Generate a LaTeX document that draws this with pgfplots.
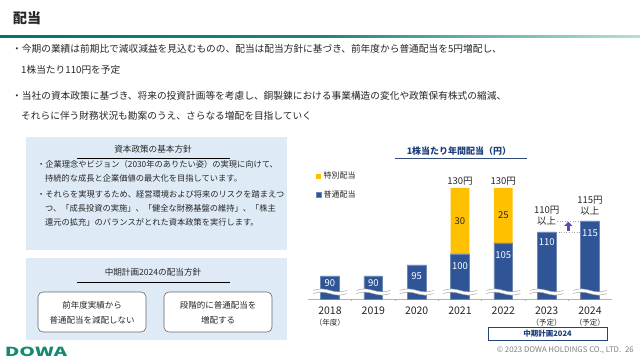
\documentclass[border=0pt]{standalone}
\usepackage{fontspec}
\setmainfont{Noto Sans CJK JP}
\setsansfont{Noto Sans CJK JP}
\usepackage{pgfplots}
\pgfplotsset{compat=1.18}
\usetikzlibrary{arrows.meta}
\definecolor{boxblue}{HTML}{DEEBF7}
\definecolor{barblue}{HTML}{2F5597}
\definecolor{baryellow}{HTML}{FFC000}
\definecolor{navy}{HTML}{1F3F7A}
\definecolor{txt}{HTML}{262626}
\definecolor{tealA}{HTML}{00756A}
\definecolor{tealB}{HTML}{B5E0DA}
\definecolor{dowa}{HTML}{168A70}
\definecolor{arrowp}{HTML}{5A4AB5}
\newcommand{\fs}[1]{\fontsize{#1}{#1}\selectfont}
\tikzset{inlab/.style={inner sep=0pt, text=white, font=\fs{9.5}}}
\begin{document}
\begin{tikzpicture}
\begin{scope}[x=1pt,y=-1pt]
\fill[white] (0,0) rectangle (640,360);
\useasboundingbox (0,0) rectangle (640,360);
% header
\node[anchor=west, inner sep=0pt, text=txt, font=\fs{14}\bfseries] at (13,18) {配当};
\shade[left color=tealA, right color=tealB, middle color=tealA!85!tealB] (0,35) rectangle (640,37.5);
% bullets
\begin{scope}[every node/.style={anchor=west, inner sep=0pt, text=txt, font=\fs{9.7}}]
\node at (12,49) {・今期の業績は前期比で減収減益を見込むものの、配当は配当方針に基づき、前年度から普通配当を5円増配し、};
\node at (21,70) {1株当たり110円を予定};
\node at (12,96) {・当社の資本政策に基づき、将来の投資計画等を考慮し、銅製錬における事業構造の変化や政策保有株式の縮減、};
\node at (21,116) {それらに伴う財務状況も勘案のうえ、さらなる増配を目指していく};
\end{scope}
% left box 1
\fill[boxblue] (26,137) rectangle (287,250);
\node[inner sep=0pt, text=txt, font=\fs{8.6}] at (153,149) {資本政策の基本方針};
\draw[black, line width=0.8pt] (77,158) -- (230,158);
\begin{scope}[every node/.style={anchor=west, inner sep=0pt, text=txt, font=\fs{8.25}}]
\node at (37,164) {・企業理念やビジョン（2030年のありたい姿）の実現に向けて、};
\node at (45,178) {持続的な成長と企業価値の最大化を目指しています。};
\node at (37,194) {・それらを実現するため、経営環境および将来のリスクを踏まえつ};
\node at (45,208) {つ、「成長投資の実施」、「健全な財務基盤の維持」、「株主};
\node at (45,222) {還元の拡充」のバランスがとれた資本政策を実行します。};
\end{scope}
% left box 2
\fill[boxblue] (26,258) rectangle (287,340);
\node[inner sep=0pt, text=txt, font=\fs{8.6}] at (153,272) {中期計画2024の配当方針};
\draw[black, line width=0.8pt] (77,282) -- (230,282);
\draw[fill=white, draw=gray!80!black, line width=0.6pt, rounded corners=5pt] (38,292) rectangle (146,332);
\draw[fill=white, draw=gray!80!black, line width=0.6pt, rounded corners=5pt] (164,292) rectangle (272,332);
\begin{scope}[every node/.style={inner sep=0pt, text=txt, font=\fs{8.5}}]
\node at (92,305) {前年度実績から};
\node at (92,320) {普通配当を減配しない};
\node at (218,305) {段階的に普通配当を};
\node at (218,320) {増配する};
\end{scope}
% logo and footer
\node[inner sep=0pt, text=dowa, font=\fs{12.5}\bfseries, xscale=1.6] at (36,351.5) {DOWA};
\node[anchor=east, inner sep=0pt, text=gray, font=\fs{7.8}] at (634,350) {© 2023 DOWA HOLDINGS CO., LTD.\enspace 26};
% chart title
\node[inner sep=0pt, text=navy, font=\fs{9}\bfseries] at (459,151) {1株当たり年間配当（円）};
\draw[navy!80!gray, line width=1.2pt] (395,158.5) -- (527,158.5);
% plan box
\draw[barblue!80!black, line width=1pt] (488,327) rectangle (607,340);
\node[inner sep=0pt, text=navy, font=\fs{7.5}\bfseries] at (547.5,333.5) {中期計画2024};
\end{scope}

\begin{axis}[
  at={(308.33pt,-299pt)}, anchor=south west,
  scale only axis, width=303.33pt, height=133.1pt,
  xmin=-0.5, xmax=6.5, ymin=79.5, ymax=140,
  ybar stacked, bar width=18.7pt,
  axis x line*=bottom, axis y line=none,
  x axis line style={color=gray!60, line width=0.6pt},
  xtick={0,...,6},
  xticklabels={{2018\\{\fontsize{7.5}{11}\selectfont （年度）}},2019,2020,2021,2022,{2023\\{\fontsize{7.5}{11}\selectfont （予定）}},{2024\\{\fontsize{7.5}{11}\selectfont （予定）}}},
  major tick length=0pt,
  xticklabel style={font=\fontsize{10.5}{11}\selectfont, text=txt, align=center, anchor=north, inner sep=0pt, yshift=-8pt},
  extra x ticks={0.5,1.5,2.5,3.5,4.5,5.5},
  extra x tick labels={},
  extra x tick style={major tick length=2pt, tick align=outside, tick style={gray!60, line width=0.5pt}},
  legend style={at={(0.025,0.969)}, anchor=north west, draw=none, fill=none, font=\fs{8}, text=txt, row sep=6pt, inner sep=0pt},
  legend cell align=left,
  reverse legend,
  legend image code/.code={\fill[#1] (0pt,-2.5pt) rectangle (5pt,2.5pt);},
]
\addplot[fill=barblue, draw=barblue!70!white, line width=0.4pt] coordinates {(0,90) (1,90) (2,95) (3,100) (4,105) (5,110) (6,115)};
\addplot[fill=baryellow, draw=none] coordinates {(0,0) (1,0) (2,0) (3,30) (4,25) (5,0) (6,0)};
\legend{普通配当,特別配当}
\coordinate (b0) at (axis cs:0,90);
\coordinate (b1) at (axis cs:1,90);
\coordinate (b2) at (axis cs:2,95);
\coordinate (b3) at (axis cs:3,100);
\coordinate (b4) at (axis cs:4,105);
\coordinate (b5) at (axis cs:5,110);
\coordinate (b6) at (axis cs:6,115);
\coordinate (s3) at (axis cs:3,115);
\coordinate (s4) at (axis cs:4,117.5);
% totals
\node[anchor=south, inner sep=0pt, text=txt, font=\fs{9.5}, yshift=2pt] at (axis cs:3,130) {130円};
\node[anchor=south, inner sep=0pt, text=txt, font=\fs{9.5}, yshift=2pt] at (axis cs:4,130) {130円};
\node[anchor=south, inner sep=0pt, text=txt, font=\fontsize{9.5}{11.5}\selectfont, align=center, yshift=6pt] at (axis cs:5,110) {110円\\以上};
\node[anchor=south, inner sep=0pt, text=txt, font=\fontsize{9.5}{11.5}\selectfont, align=center, yshift=5pt] at (axis cs:6,115) {115円\\以上};
\draw[gray!70, dotted, line width=0.6pt] (axis cs:5.24,115) -- (axis cs:5.785,115);
\draw[gray!70, dotted, line width=0.6pt] (axis cs:5.215,110) -- (axis cs:5.785,110);
\draw[arrowp, line width=3.5pt, -{Triangle[width=8pt,length=4pt]}] (axis cs:5.5,110.4) -- (axis cs:5.5,114.6);
\end{axis}

% value labels on top of the bars
\node[inlab, yshift=-7pt] at (b0) {90};
\node[inlab, yshift=-7pt] at (b1) {90};
\node[inlab, yshift=-11pt] at (b2) {95};
\node[inlab, yshift=-12pt] at (b3) {100};
\node[inlab, yshift=-12pt] at (b4) {105};
\node[inlab, yshift=-10pt] at (b5) {110};
\node[inlab, yshift=-12pt] at (b6) {115};
\node[inner sep=0pt, text=txt, font=\fs{9.5}] at (s3) {30};
\node[inner sep=0pt, text=txt, font=\fs{9.5}] at (s4) {25};

% axis breaks (decoration)
\begin{scope}[x=1pt,y=-1pt]
\foreach \cx in {330,373.33,416.67,460,503.33,546.67,590}{
  \fill[white] (\cx-17,290.4) sin (\cx-8.5,288.9) cos (\cx,290.4) sin (\cx+8.5,291.9) cos (\cx+17,290.4) -- (\cx+17,293.6) sin (\cx+8.5,295.1) cos (\cx,293.6) sin (\cx-8.5,292.1) cos (\cx-17,293.6) -- cycle;
  \draw[gray!70, line width=0.5pt] (\cx-17,290.4) sin (\cx-8.5,288.9) cos (\cx,290.4) sin (\cx+8.5,291.9) cos (\cx+17,290.4);
  \draw[gray!70, line width=0.5pt] (\cx-17,293.6) sin (\cx-8.5,292.1) cos (\cx,293.6) sin (\cx+8.5,295.1) cos (\cx+17,293.6);
}
\end{scope}
\end{tikzpicture}
\end{document}
